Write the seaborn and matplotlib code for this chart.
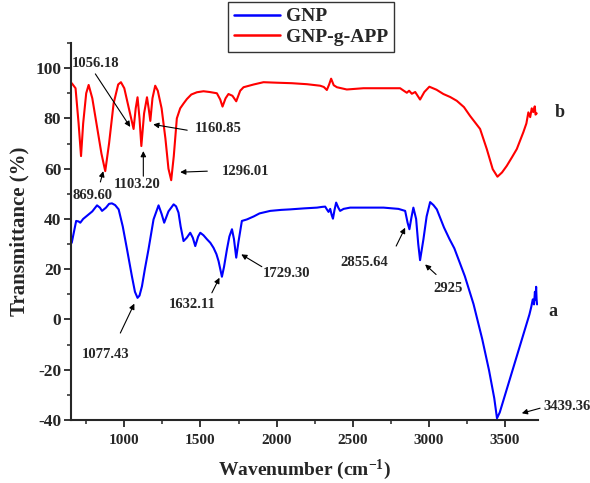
import numpy as np
import pandas as pd
import matplotlib
matplotlib.use("Agg")
import matplotlib.pyplot as plt
import seaborn as sns
from matplotlib.ticker import MultipleLocator

# -------------------------------
# FTIR data
# -------------------------------
gnp_wn = [655, 670, 684, 700, 711, 730, 750, 766, 790, 821, 840, 854, 880, 900, 919, 940,
          963, 990, 1018, 1050, 1070, 1087, 1100, 1116, 1135, 1159, 1192, 1225, 1245, 1262,
          1290, 1324, 1340, 1356, 1370, 1389, 1410, 1433, 1450, 1466, 1485, 1499, 1520, 1543,
          1565, 1586, 1605, 1619, 1641, 1655, 1674, 1690, 1707, 1720, 1735, 1750, 1772, 1805,
          1850, 1888, 1958, 2030, 2089, 2180, 2265, 2300, 2319, 2330, 2341, 2352, 2362, 2370,
          2380, 2391, 2405, 2417, 2440, 2483, 2600, 2702, 2800, 2844, 2860, 2872, 2885, 2898,
          2916, 2930, 2942, 2964, 2985, 3008, 3030, 3052, 3099, 3135, 3167, 3200, 3236, 3293,
          3350, 3395, 3429, 3447, 3465, 3490, 3520, 3550, 3580, 3610, 3640, 3660, 3672, 3682,
          3690, 3696, 3700, 3704, 3707, 3710]
gnp_t = [30.5, 35, 39.2, 39, 38.5, 40, 41, 41.8, 43, 45.4, 44.5, 43.2, 44.5, 46, 46.2, 45.5,
         43.8, 37, 27.9, 17.2, 11, 8.6, 9.5, 13.2, 20, 27.9, 39.8, 45.4, 42, 38.5,
         43, 45.8, 45, 42.5, 37, 31.2, 32.5, 34.5, 32.5, 29.2, 33, 34.5, 33.5, 31.9,
         30.5, 28.5, 26, 23.2, 17, 21, 27.9, 33, 35.9, 32, 24.6, 31, 39.2, 39.8,
         41, 42.2, 43.2, 43.6, 43.8, 44.2, 44.5, 44.8, 44.9, 43.8, 42.8, 44, 41.5, 40.1,
         43.5, 46.5, 44.5, 43.2, 44, 44.5, 44.5, 44.5, 44, 43.2, 38.5, 35.9, 40.5, 44.5,
         40, 30, 23.6, 31.9, 41, 46.7, 45.5, 43.8, 36.6, 32, 28.3, 23, 17.2, 6.1,
         -7.8, -20.3, -31.3, -39.3, -37, -32, -26, -20, -14, -8, -2, 2, 5, 8,
         6, 11, 8, 13, 8, 6]

app_wn = [655, 680, 700, 716, 730, 750, 766, 790, 820, 850, 875, 900, 930, 960, 978, 1000,
          1030, 1061, 1075, 1087, 1100, 1112, 1130, 1149, 1160, 1171, 1185, 1203, 1220, 1245,
          1270, 1290, 1308, 1325, 1345, 1367, 1390, 1411, 1440, 1477, 1520, 1560, 1608, 1630,
          1645, 1665, 1684, 1710, 1735, 1761, 1783, 1850, 1914, 2000, 2100, 2200, 2286, 2310,
          2330, 2345, 2358, 2375, 2396, 2461, 2570, 2700, 2811, 2840, 2855, 2870, 2888, 2910,
          2942, 2970, 3003, 3050, 3095, 3140, 3183, 3230, 3270, 3336, 3380, 3419, 3450, 3480,
          3511, 3545, 3577, 3620, 3640, 3653, 3665, 3675, 3685, 3695, 3700, 3708]
app_t = [94, 92, 78, 65, 78, 90, 93.3, 88, 77, 66, 59, 70, 86, 93.5, 94.4, 92,
         84, 75.8, 84, 88.4, 80, 69, 82, 88.4, 84, 79, 88, 93, 91, 84,
         72, 60, 55.4, 65, 80, 84, 86, 87.7, 89.5, 90.4, 90.8, 90.5, 90, 87.5,
         84.7, 88, 89.7, 89, 86.8, 91, 92.4, 93.5, 94.4, 94.2, 94, 93.6, 93, 92.5,
         91.3, 93.5, 95.8, 93.2, 92.4, 91.5, 92, 92, 92, 90.8, 90.2, 91, 89.8, 90.5,
         87.5, 90.5, 92.6, 91.4, 89.7, 88.5, 87, 84.5, 81, 75.8, 67.8, 59.8, 56.8, 58.5,
         61.1, 64.5, 67.8, 74.5, 78, 82.4, 80.5, 84, 82.5, 84.8, 81.5, 82]

series_names = ["GNP", "GNP-g-APP"]
series_colors = ["#0000ff", "#ff0000"]

df = pd.concat([
    pd.DataFrame({"wn": gnp_wn, "T": gnp_t, "sample": series_names[0]}),
    pd.DataFrame({"wn": app_wn, "T": app_t, "sample": series_names[1]}),
])

# -------------------------------
# STYLE
# -------------------------------
sns.set_style("ticks")
plt.rcParams["font.family"] = ["Liberation Serif", "DejaVu Serif"]
plt.rcParams["font.weight"] = "bold"
plt.rcParams["axes.unicode_minus"] = False
plt.rcParams["mathtext.fontset"] = "custom"
plt.rcParams["mathtext.rm"] = "Liberation Serif:bold"
plt.rcParams["mathtext.bf"] = "Liberation Serif:bold"
plt.rcParams["mathtext.default"] = "bf"

fig = plt.figure(figsize=(5.9, 4.83), dpi=100)
ax = fig.add_axes([0.1203, 0.1304, 0.7915, 0.7806])

sns.lineplot(data=df, x="wn", y="T", hue="sample", palette=series_colors,
             sort=False, estimator=None, linewidth=1.5, ax=ax)

ax.set_xlim(650, 3716)
ax.set_ylim(-40, 110)
ax.xaxis.set_major_locator(MultipleLocator(500))
ax.xaxis.set_minor_locator(MultipleLocator(250))
ax.yaxis.set_major_locator(MultipleLocator(20))
ax.yaxis.set_minor_locator(MultipleLocator(10))
ax.set_yticks([-40, -20, 0, 20, 40, 60, 80, 100])

for s in ["top", "right"]:
    ax.spines[s].set_visible(False)
for s in ["left", "bottom"]:
    ax.spines[s].set_linewidth(1.5)

ax.tick_params(which="major", direction="out", length=5, width=1.3, pad=2)
ax.tick_params(which="minor", direction="out", length=3, width=1.1)
ax.tick_params(axis="x", which="major", pad=5, labelsize=11)
ax.tick_params(axis="y", which="major", labelsize=12.5)

ax.set_xlabel("Wavenumber (cm$^{-1}$)", fontsize=14, fontweight="bold", labelpad=8)
ax.set_ylabel("Transmittance (%)", fontsize=15, fontweight="bold", labelpad=4)

# -------------------------------
# PEAK LABELS
# -------------------------------
peak_labels = ["1056.18", "1160.85", "1103.20", "1296.01", "869.60",
               "1077.43", "1632.11", "1729.30", "2855.64", "2925", "3439.36"]
label_xy = [(810, 102), (1617, 76), (1085, 53.8), (1794, 59), (790, 49.4),
            (875, -14), (1444, 5.9), (2068, 18.3), (2575, 22.5), (3128, 12.2), (3905, -34.7)]
arrow_tail = [(810, 97.7), (1413, 75.3), (1125, 57), (1545, 59), (843, 54.7),
              (974, -5.4), (1575, 10.6), (1903, 21), (2785, 29.2), (3047, 17.9), (3730, -35.3)]
arrow_head = [(1039, 76.6), (1190, 77.6), (1125, 67), (1367, 58.6), (862, 59),
              (1066, 6.3), (1625, 16.6), (1768, 25.9), (2844, 36.5), (2975, 21.9), (3610, -37.3)]

for lab, txy, tail, head in zip(peak_labels, label_xy, arrow_tail, arrow_head):
    ax.annotate("", xy=head, xytext=tail, annotation_clip=False,
                arrowprops=dict(arrowstyle="-|>", color="black", lw=0.8,
                                mutation_scale=8, shrinkA=0, shrinkB=0))
    ax.text(txy[0], txy[1], lab, ha="center", va="center", fontsize=10.5,
            fontweight="bold", clip_on=False)

ax.text(3815, 3, "a", ha="center", va="center", fontsize=13, fontweight="bold", clip_on=False)
ax.text(3861, 82.5, "b", ha="center", va="center", fontsize=13, fontweight="bold", clip_on=False)

# -------------------------------
# LEGEND
# -------------------------------
handles, labels = ax.get_legend_handles_labels()
leg = ax.legend(handles, labels, loc="upper left", bbox_to_anchor=(0.336, 1.109),
                borderaxespad=0, frameon=True, fancybox=False,
                edgecolor="black", handlelength=2.4, handletextpad=0.3,
                labelspacing=0.15, borderpad=0.3, prop={"weight": "bold", "size": 14})
leg.get_frame().set_linewidth(1.0)
for line in leg.get_lines():
    line.set_linewidth(1.8)

fig.savefig("out.png", dpi=100)
